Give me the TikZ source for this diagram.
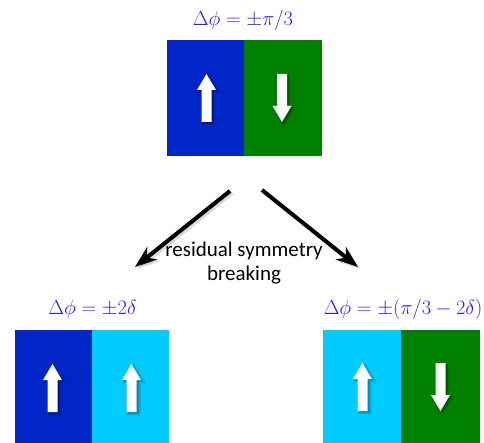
\documentclass[tikz,border=0pt]{standalone}
\usepackage{graphicx}
\usepackage{fontspec}
\newfontfamily\lblfont{Carlito}
\usetikzlibrary{arrows.meta,shadows.blur}
\definecolor{dblue}{RGB}{0,38,200}
\definecolor{cyanbox}{RGB}{0,204,255}
\definecolor{gbox}{RGB}{0,128,0}
\definecolor{mathblue}{RGB}{35,35,230}
\newcommand{\phasetext}[1]{\scalebox{1.18}{$#1$}}
\tikzset{
  panel/.style={rectangle, inner sep=0pt, anchor=north west, minimum height=116pt},
  lowpanel/.style={rectangle, inner sep=0pt, anchor=north west, minimum height=114pt},
  phase/.style={text=mathblue, anchor=base, inner sep=0pt, font=\fontsize{17.28}{20}\selectfont},
  lbl/.style={anchor=base, inner sep=0pt, font=\lblfont\fontsize{21}{24}\selectfont},
  spin/.style={fill=white, draw=none, blur shadow={shadow xshift=1.8pt, shadow yshift=-1.8pt, shadow blur steps=6, shadow blur radius=2pt, shadow opacity=45}},
  bigarrow/.style={line width=4pt, -{Stealth[length=22pt,width=16pt,inset=7pt]}},
  bigshadow/.style={line width=4pt, draw=black, opacity=0.15, -{Stealth[length=22pt,width=16pt,inset=7pt]}},
  pics/upspin/.style={code={\path[spin] (0,0) -- (9.5,16) -- (5,16) -- (5,48) -- (-5,48) -- (-5,16) -- (-9.5,16) -- cycle;}},
  pics/downspin/.style={code={\path[spin] (-5,0) -- (5,0) -- (5,32) -- (9.5,32) -- (0,48) -- (-9.5,32) -- (-5,32) -- cycle;}}
}
\begin{document}
\begin{tikzpicture}[x=1pt,y=-1pt]
\useasboundingbox (0,0) rectangle (484,443);
% top configuration
\node[phase] (t0) at (243,26) {\phasetext{\Delta\phi=\pm\pi/3}};
\node[panel, fill=dblue, minimum width=77pt] (tA) at (167,40) {};
\node[panel, fill=gbox, minimum width=78pt] (tB) at (244,40) {};
\pic at (206.5,74) {upspin};
\pic at (282,74) {downspin};
% bottom-left configuration
\node[phase] (l0) at (92.5,315) {\phasetext{\Delta\phi=\pm2\delta}};
\node[lowpanel, fill=dblue, minimum width=77pt] (lA) at (15,330) {};
\node[lowpanel, fill=cyanbox, minimum width=77pt] (lB) at (92,330) {};
\pic at (52.5,364) {upspin};
\pic at (131.5,364) {upspin};
% bottom-right configuration
\node[phase] (r0) at (403,315) {\phasetext{\Delta\phi=\pm(\pi/3-2\delta)}};
\node[lowpanel, fill=cyanbox, minimum width=78pt] (rA) at (323,330) {};
\node[lowpanel, fill=gbox, minimum width=79pt] (rB) at (401,330) {};
\pic at (362.5,363) {upspin};
\pic at (440.5,363) {downspin};
% branching arrows
\coordinate (aL0) at (230,191);
\coordinate (aL1) at (135,267);
\coordinate (aR0) at (262,190);
\coordinate (aR1) at (358,267);
\draw[bigshadow] ([shift={(2,2)}]aL0) -- ([shift={(2,2)}]aL1);
\draw[bigshadow] ([shift={(2,2)}]aR0) -- ([shift={(2,2)}]aR1);
\draw[bigarrow] (aL0) -- (aL1);
\draw[bigarrow] (aR0) -- (aR1);
\node[lbl] (m1) at (244,257) {residual symmetry};
\node[lbl] (m2) at (244,280) {breaking};
\end{tikzpicture}
\end{document}
